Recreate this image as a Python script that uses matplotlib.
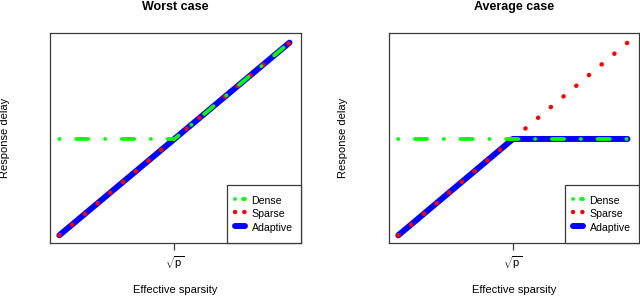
import matplotlib
matplotlib.use("Agg")
import matplotlib.pyplot as plt
from matplotlib.lines import Line2D

plt.rcParams['font.family'] = ['Liberation Sans', 'DejaVu Sans']
plt.rcParams['mathtext.fontset'] = 'custom'
plt.rcParams['mathtext.rm'] = 'Liberation Sans'
plt.rcParams['lines.scale_dashes'] = False

# effective sparsity, in units of sqrt(p)
eff_x = [0, 1, 2]
sqrt_p = 1

worst_dense = [1, 1, 2]
worst_sparse = [0, 1, 2]
worst_adaptive = [0, 1, 2]

avg_dense = [1, 1, 1]
avg_sparse = [0, 1, 2]
avg_adaptive = [0, 1, 1]

titles = ["Worst case", "Average case"]
labels = ["Dense", "Sparse", "Adaptive"]

GREEN = "#00ff00"
RED = "#ff0000"
BLUE = "#0000ff"
FRAME = "#3a3a3a"

dense_dash = (0, (0.22, 11.9, 8.86, 11.9))
sparse_dash = (0, (0.2, 11.75))

fig = plt.figure(figsize=(6.4, 2.96), dpi=100)
W, H = 640, 296
boxes = [(50, 301), (389, 639)]
top, bottom = 33, 243
ylabel_x = [4.7, 342.5]

series = [(worst_dense, worst_sparse, worst_adaptive),
          (avg_dense, avg_sparse, avg_adaptive)]

for i, (x0, x1) in enumerate(boxes):
    ax = fig.add_axes([x0 / W, 1 - bottom / H, (x1 - x0) / W, (bottom - top) / H])
    dense, sparse, adaptive = series[i]
    ax.plot(eff_x, adaptive, color=BLUE, lw=4.3, solid_capstyle='round',
            solid_joinstyle='round', zorder=2)
    ax.plot(eff_x, sparse, color=RED, lw=3.2, linestyle=sparse_dash,
            dash_capstyle='round', zorder=3)
    ax.plot(eff_x, dense, color=GREEN, lw=2.7, linestyle=dense_dash,
            dash_capstyle='round', dash_joinstyle='round', zorder=4)

    ax.set_xlim(-0.081, 2.1)
    ax.set_ylim(-0.08, 2.1)
    ax.set_xticks([sqrt_p])
    ax.set_xticklabels([r'$\sqrt{\mathrm{p}}$'], fontsize=8)
    ax.set_yticks([])
    ax.tick_params(axis='x', length=5, width=0.9, color=FRAME, pad=3)
    for sp in ax.spines.values():
        sp.set_color(FRAME)
        sp.set_linewidth(0.9)

    ax.set_title(titles[i], fontsize=9, fontweight='bold', pad=16.6)
    cx = (x0 + x1) / 2 / W
    fig.text(cx, 3 / H, "Effective sparsity", fontsize=8, ha='center', va='baseline')
    fig.text(ylabel_x[i] / W, 1 - 138 / H, "Response delay", fontsize=8,
             rotation=90, ha='center', va='center')

    handles = [
        Line2D([], [], color=GREEN, lw=2.7, linestyle=(0, (0.1, 5.6, 10, 10)),
               dash_capstyle='round'),
        Line2D([], [], color=RED, lw=3.2, linestyle=(0, (0.1, 6.6)),
               dash_capstyle='round'),
        Line2D([], [], color=BLUE, lw=4.3, solid_capstyle='round'),
    ]
    leg = ax.legend(handles, labels, loc='lower right', fontsize=7.6,
                    borderaxespad=0, fancybox=False, framealpha=1,
                    handlelength=0.9, handleheight=1.6, labelspacing=0.02,
                    handletextpad=0.65, borderpad=0.8)
    leg.get_frame().set_edgecolor(FRAME)
    leg.get_frame().set_linewidth(0.9)

fig.savefig("out.png", dpi=100)
